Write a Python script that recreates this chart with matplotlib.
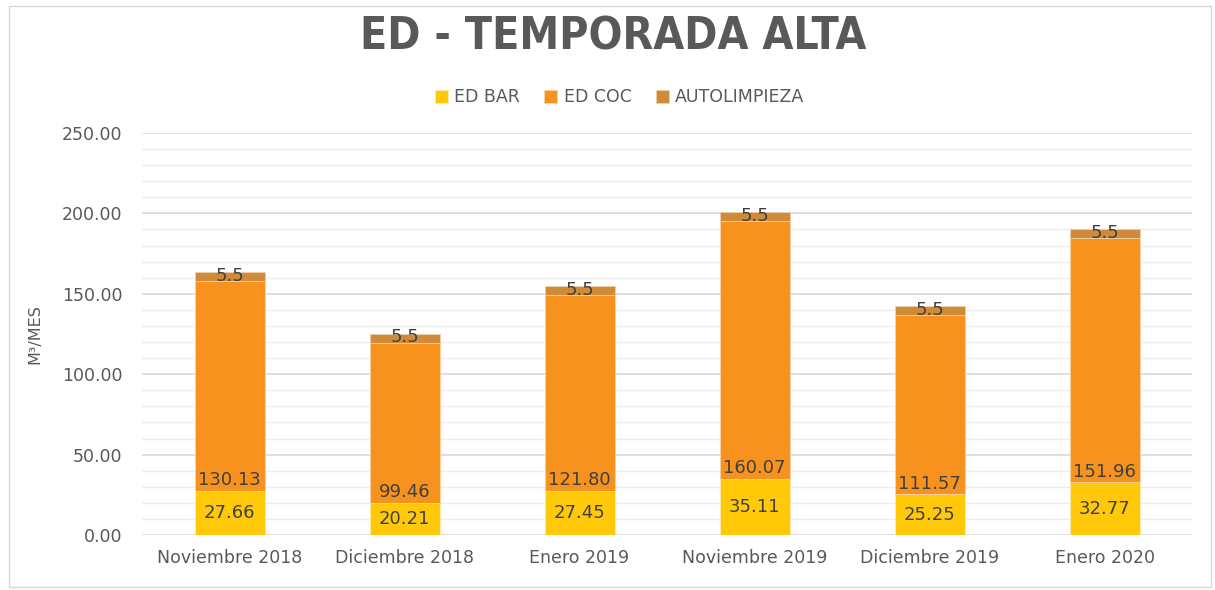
import matplotlib
matplotlib.use("Agg")
import matplotlib.pyplot as plt
import numpy as np
from matplotlib.patches import Rectangle

categories = ["Noviembre 2018", "Diciembre 2018", "Enero 2019",
              "Noviembre 2019", "Diciembre 2019", "Enero 2020"]
ed_bar = [27.66, 20.21, 27.45, 35.11, 25.25, 32.77]
ed_coc = [130.13, 99.46, 121.80, 160.07, 111.57, 151.96]
autolimpieza = [5.5, 5.5, 5.5, 5.5, 5.5, 5.5]
series_names = ["ED BAR", "ED COC", "AUTOLIMPIEZA"]
colors = ["#FFC90A", "#F7921E", "#D08B3A"]

fig = plt.figure(figsize=(12.15, 5.9), dpi=100)
ax = fig.add_axes([0.1169, 0.0932, 0.8642, 0.6814])

x = np.arange(len(categories))
w = 0.4
b1 = np.array(ed_bar)
b2 = b1 + np.array(ed_coc)
ax.bar(x, ed_bar, w, color=colors[0], edgecolor="#FFE9B0", linewidth=0.6, label=series_names[0], zorder=3)
ax.bar(x, ed_coc, w, bottom=b1, color=colors[1], edgecolor="#FBD2A6", linewidth=0.6, label=series_names[1], zorder=3)
ax.bar(x, autolimpieza, w, bottom=b2, color=colors[2], edgecolor="#EDCFA8", linewidth=0.6, label=series_names[2], zorder=3)

lab_col = "#404040"
for i in range(len(categories)):
    ax.text(x[i], ed_bar[i] / 2, f"{ed_bar[i]:.2f}", ha="center", va="center",
            fontsize=13, color=lab_col, zorder=4)
    ax.text(x[i], b1[i] + 1, f"{ed_coc[i]:.2f}", ha="center", va="bottom",
            fontsize=13, color=lab_col, zorder=4)
    ax.text(x[i], b2[i] + autolimpieza[i] / 2 + 0.5, f"{autolimpieza[i]:.1f}", ha="center", va="center",
            fontsize=13, color=lab_col, zorder=4)

ax.set_xlim(-0.5, len(categories) - 0.5)
ax.set_ylim(0, 250)
ax.set_yticks(np.arange(0, 251, 50))
ax.set_yticklabels([f"{v:.2f}" for v in np.arange(0, 251, 50)])
ax.set_yticks(np.arange(0, 251, 10), minor=True)
ax.grid(axis="y", which="major", color="#D9D9D9", linewidth=1.2, zorder=0)
ax.grid(axis="y", which="minor", color="#EDEDED", linewidth=1.0, zorder=0)
ax.set_xticks(x)
ax.set_xticklabels(categories)
ax.tick_params(axis="both", which="both", length=0, labelsize=12.5, colors="#595959")
ax.tick_params(axis="x", pad=10)
ax.tick_params(axis="y", pad=14)
for s in ax.spines.values():
    s.set_visible(False)
ax.set_ylabel("M³/MES", fontsize=11.5, color="#595959", labelpad=14)

fig.text(0.505, 0.937, "ED - TEMPORADA ALTA", ha="center", va="center",
         fontsize=32, fontweight="bold", color="#595959",
         family="DejaVu Sans", fontstretch="condensed")

leg = fig.legend(loc="center", bbox_to_anchor=(0.51, 0.835), ncol=3, frameon=False,
                 fontsize=12.5, handlelength=0.75, handleheight=0.75, handletextpad=0.35,
                 columnspacing=1.4, labelcolor="#595959")

fig.patches.append(Rectangle((0.007, 0.005), 0.99, 0.985, transform=fig.transFigure,
                             fill=False, edgecolor="#D9D9D9", linewidth=1.0))

fig.savefig("out.png", dpi=100, facecolor="white")
